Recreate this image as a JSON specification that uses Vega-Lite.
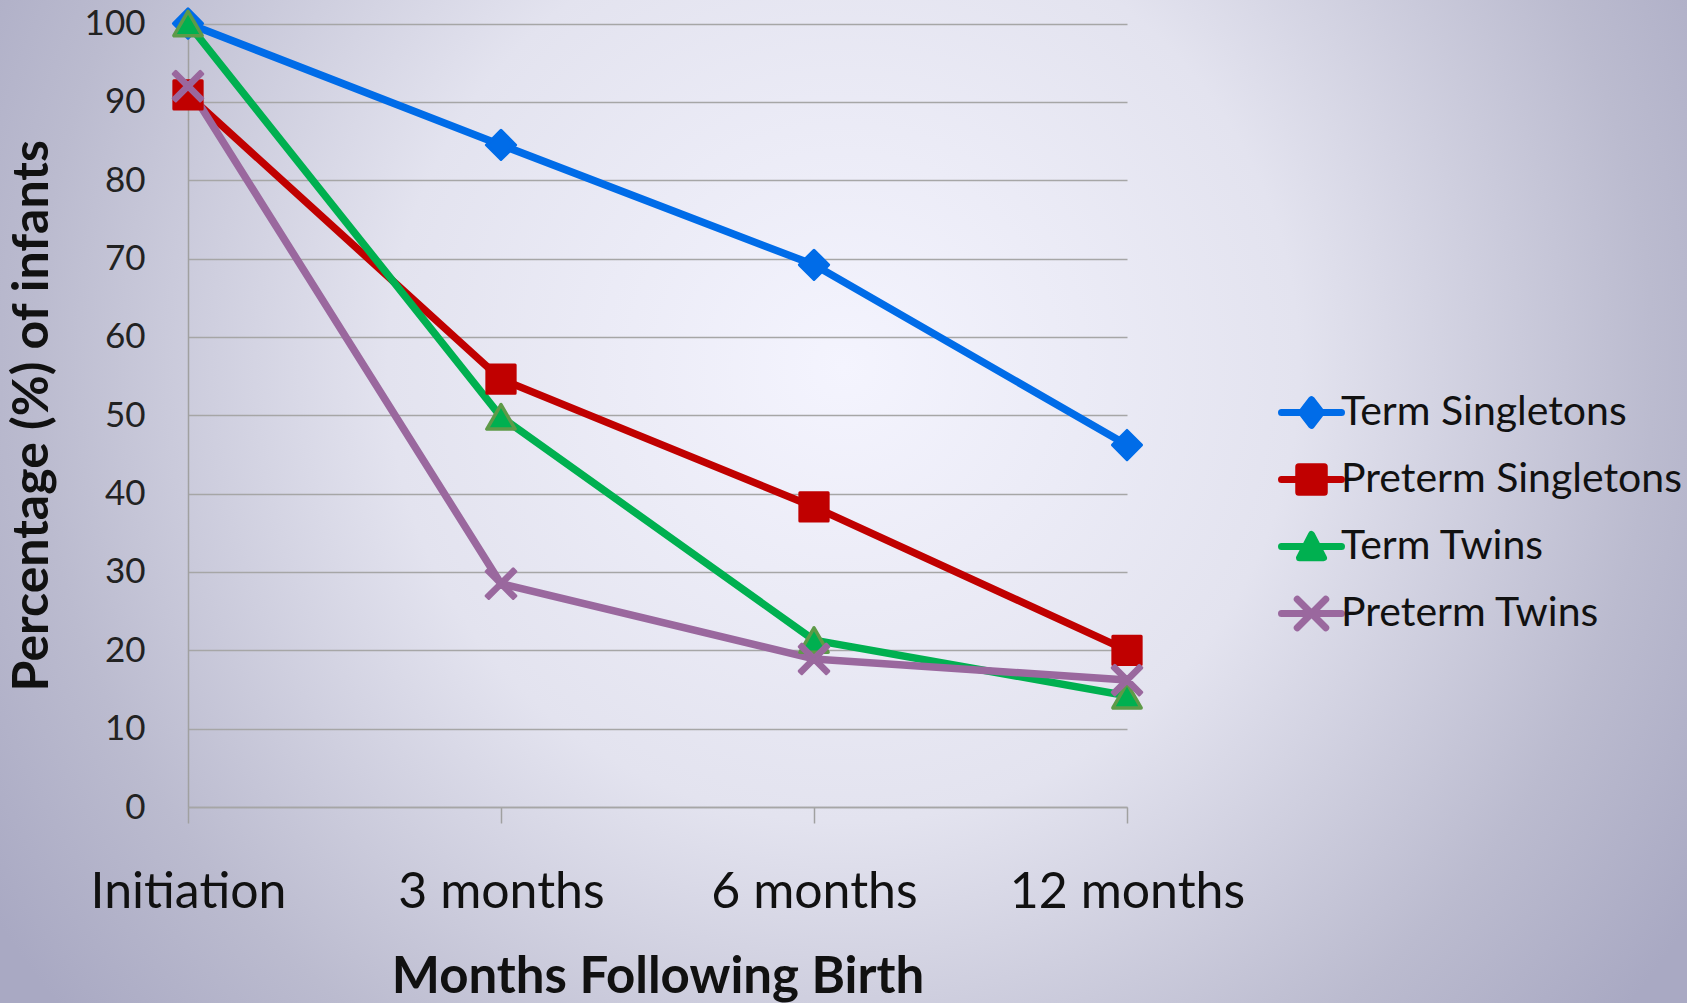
{
  "$schema": "https://vega.github.io/schema/vega-lite/v6.json",
  "width": 1687,
  "height": 1003,
  "padding": 0,
  "autosize": {"type": "none"},
  "background": "#C4C4D8",
  "view": {
    "stroke": null,
    "fill": {
      "gradient": "radial",
      "x1": 0.5, "y1": 0.42, "r1": 0,
      "x2": 0.5, "y2": 0.42, "r2": 0.6,
      "stops": [
        {"offset": 0, "color": "#F4F4FE"},
        {"offset": 0.45, "color": "#E3E3EF"},
        {"offset": 0.8, "color": "#BBBBCF"},
        {"offset": 1, "color": "#A9A9C3"}
      ]
    }
  },
  "config": {"font": "Lato"},
  "data": {
    "values": [
      {"t": "Initiation", "series": "Term Singletons", "v": 100},
      {"t": "3 months", "series": "Term Singletons", "v": 84.5},
      {"t": "6 months", "series": "Term Singletons", "v": 69.2},
      {"t": "12 months", "series": "Term Singletons", "v": 46.2},
      {"t": "Initiation", "series": "Preterm Singletons", "v": 90.9},
      {"t": "3 months", "series": "Preterm Singletons", "v": 54.6},
      {"t": "6 months", "series": "Preterm Singletons", "v": 38.3},
      {"t": "12 months", "series": "Preterm Singletons", "v": 20.0},
      {"t": "Initiation", "series": "Term Twins", "v": 100},
      {"t": "3 months", "series": "Term Twins", "v": 49.8},
      {"t": "6 months", "series": "Term Twins", "v": 21.3},
      {"t": "12 months", "series": "Term Twins", "v": 14.2},
      {"t": "Initiation", "series": "Preterm Twins", "v": 92},
      {"t": "3 months", "series": "Preterm Twins", "v": 28.5},
      {"t": "6 months", "series": "Preterm Twins", "v": 18.9},
      {"t": "12 months", "series": "Preterm Twins", "v": 16.2}
    ]
  },
  "encoding": {
    "x": {
      "field": "t",
      "type": "ordinal",
      "sort": ["Initiation", "3 months", "6 months", "12 months"],
      "scale": {"type": "point", "padding": 0, "range": [188, 1127]},
      "axis": {
        "title": "Months Following Birth",
        "offset": -196,
        "grid": false,
        "labelAngle": 0,
        "labelFontSize": 50,
        "labelColor": "#111111",
        "labelPadding": 44,
        "labelLimit": 500,
        "tickSize": 16,
        "tickColor": "#A0A0A0",
        "tickWidth": 1.5,
        "domainColor": "#A0A0A0",
        "domainWidth": 1.5,
        "titleFontSize": 51,
        "titleFontWeight": "bold",
        "titleColor": "#111111",
        "titlePadding": 35
      }
    },
    "y": {
      "field": "v",
      "type": "quantitative",
      "scale": {"domain": [0, 100], "range": [807, 23.5], "nice": false},
      "axis": {
        "title": "Percentage (%) of infants",
        "offset": -188,
        "grid": false,
        "values": [0, 10, 20, 30, 40, 50, 60, 70, 80, 90, 100],
        "tickSize": -939,
        "tickColor": "#A6A6A6",
        "tickWidth": 1.5,
        "domainColor": "#A0A0A0",
        "domainWidth": 1.5,
        "labelFontSize": 35,
        "labelColor": "#222222",
        "labelPadding": 982,
        "labelLimit": 300,
        "titleFontSize": 50,
        "titleFontWeight": "bold",
        "titleColor": "#111111",
        "titlePadding": 27
      }
    }
  },
  "layer": [
    {
      "mark": {"type": "line", "strokeWidth": 7.5, "strokeJoin": "round"},
      "encoding": {
        "color": {
          "field": "series",
          "type": "nominal",
          "scale": {
            "domain": ["Term Singletons", "Preterm Singletons", "Term Twins", "Preterm Twins"],
            "range": ["#006CE8", "#C00000", "#00B050", "#9A689E"]
          },
          "legend": {
            "orient": "none",
            "legendX": 1291,
            "legendY": 392,
            "title": null,
            "labelFontSize": 41,
            "labelColor": "#111111",
            "labelLimit": 500,
            "symbolSize": 900,
            "labelOffset": 9,
            "rowPadding": 25,
            "padding": 0,
            "encode": {
              "symbols": {
                "update": {
                  "shape": {"signal": "datum.value === 'Term Singletons' ? 'M-2,0L2,0M-0.65,0L0,-0.85L0.65,0L0,0.85Z' : datum.value === 'Preterm Singletons' ? 'M-2,0L2,0M-0.85,-0.85L0.85,-0.85L0.85,0.85L-0.85,0.85Z' : datum.value === 'Term Twins' ? 'M-2,0L2,0M0,-0.8L0.8,0.75L-0.8,0.75Z' : 'M-2,0L2,0M-0.95,-0.95L0.95,0.95M0.95,-0.95L-0.95,0.95'"},
                  "fill": {"scale": "color", "field": "value"},
                  "stroke": {"scale": "color", "field": "value"},
                  "strokeWidth": {"value": 7},
                  "strokeCap": {"value": "round"},
                  "strokeJoin": {"value": "round"},
                  "opacity": {"value": 1}
                }
              }
            }
          }
        }
      }
    },
    {
      "transform": [{"filter": "datum.series === 'Term Singletons'"}],
      "mark": {"type": "point", "shape": "diamond", "filled": true, "size": 850, "fill": "#006CE8", "stroke": "#006CE8", "strokeWidth": 3, "opacity": 1, "strokeJoin": "round"}
    },
    {
      "transform": [{"filter": "datum.series === 'Preterm Singletons'"}],
      "mark": {"type": "point", "shape": "square", "filled": true, "size": 800, "fill": "#C00000", "stroke": "#C00000", "strokeWidth": 3, "opacity": 1, "strokeJoin": "round"}
    },
    {
      "transform": [{"filter": "datum.series === 'Term Twins'"}],
      "mark": {"type": "point", "shape": "triangle-up", "filled": true, "size": 800, "fill": "#00B050", "stroke": "#5E9A48", "strokeWidth": 3.5, "opacity": 1, "strokeJoin": "round"}
    },
    {
      "transform": [{"filter": "datum.series === 'Preterm Twins'"}],
      "mark": {"type": "point", "shape": "M-0.863,1.047L0,0.184L0.863,1.047L1.047,0.863L0.184,0L1.047,-0.863L0.863,-1.047L0,-0.184L-0.863,-1.047L-1.047,-0.863L-0.184,0L-1.047,0.863Z", "filled": true, "size": 800, "fill": "#9A689E", "stroke": "#9A689E", "strokeWidth": 3, "opacity": 1, "strokeJoin": "round"}
    }
  ]
}
